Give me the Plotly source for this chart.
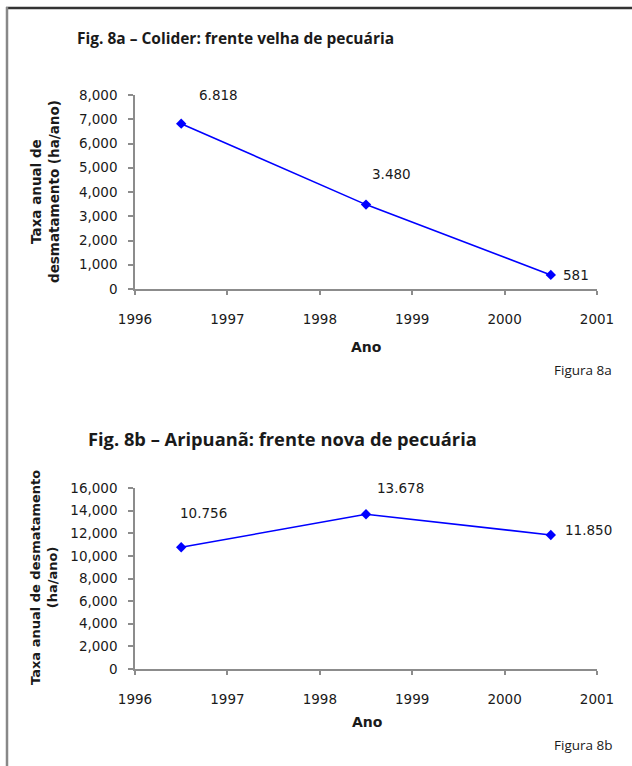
import plotly.graph_objects as go

# ---- data ----
years = [1996.5, 1998.5, 2000.5]
colider = [6818, 3480, 581]
colider_labels = ["6.818", "3.480", "581"]
aripuana = [10756, 13678, 11850]
aripuana_labels = ["10.756", "13.678", "11.850"]

title_a = "Fig. 8a – Colider: frente velha de pecuária"
title_b = "Fig. 8b – Aripuanã: frente nova de pecuária"

W, H = 632, 766
FONT = "DejaVu Sans"
TFONT = "Open Sans"
TXT = "#1a1a1a"
AX = "#8c8c8c"
BLUE = "#0000ff"


def px(x):
    return x / W


def py(y):
    return (H - y) / H


fig = go.Figure()
fig.add_trace(go.Scatter(x=years, y=colider, mode="lines+markers",
                         line=dict(color=BLUE, width=1.6),
                         marker=dict(symbol="diamond", size=8, color=BLUE),
                         xaxis="x", yaxis="y", showlegend=False))
fig.add_trace(go.Scatter(x=years, y=aripuana, mode="lines+markers",
                         line=dict(color=BLUE, width=1.6),
                         marker=dict(symbol="diamond", size=8, color=BLUE),
                         xaxis="x2", yaxis="y2", showlegend=False))

xcommon = dict(range=[1996, 2001], dtick=1, tick0=1996, showline=True, linecolor=AX,
               linewidth=1.5, ticks="outside", ticklen=4, tickcolor=AX, tickwidth=1.5,
               showgrid=False, zeroline=False, tickfont=dict(family=FONT, size=13.5, color=TXT),
               ticklabelstandoff=13, fixedrange=True, automargin=False)
ycommon = dict(showline=True, linecolor=AX, linewidth=1.5, ticks="outside", ticklen=5,
               tickcolor=AX, tickwidth=1.5, showgrid=False, zeroline=False,
               tickformat=",", tickfont=dict(family=FONT, size=13.5, color=TXT),
               ticklabelstandoff=8, fixedrange=True, automargin=False)

fig.update_layout(
    template="none",
    width=W, height=H, margin=dict(l=0, r=0, t=0, b=0, autoexpand=False),
    paper_bgcolor="white", plot_bgcolor="white",
    xaxis=dict(domain=[px(135), px(597)], anchor="y", **xcommon),
    yaxis=dict(domain=[py(289), py(95)], anchor="x", range=[0, 8000], dtick=1000, **ycommon),
    xaxis2=dict(domain=[px(135), px(597)], anchor="y2", **xcommon),
    yaxis2=dict(domain=[py(669), py(488)], anchor="x2", range=[0, 16000], dtick=2000, **ycommon),
)

ann = []


def pann(text, x, y, size, xanchor="center", angle=0, bold=False, font=TFONT):
    if bold:
        text = "<b>" + text + "</b>"
    return dict(text=text, x=px(x), y=py(y), xref="paper", yref="paper",
                xanchor=xanchor, yanchor="middle", showarrow=False, textangle=angle,
                font=dict(family=font, size=size, color=TXT))


# titles
ann.append(pann(title_a, 75, 38, 15.5, xanchor="left", bold=True))
ann.append(pann(title_b, 86, 438, 18.3, xanchor="left", bold=True))
# axis titles
ann.append(pann("Taxa anual de<br>desmatamento (ha/ano)", 45, 192, 13.5, angle=-90,
                bold=True, font=FONT))
ann.append(pann("Taxa anual de desmatamento<br>(ha/ano)", 44, 578, 13, angle=-90,
                bold=True, font=FONT))
ann.append(pann("Ano", 366, 347, 14, bold=True, font=FONT))
ann.append(pann("Ano", 367, 722, 14, bold=True, font=FONT))
ann.append(pann("Figura 8a", 583, 370, 13.5, font=TFONT))
ann.append(pann("Figura 8b", 583, 745, 13.5, font=TFONT))

# data labels
shifts_a = [(37, 29), (25, 31), (25, 0)]
for xv, yv, lab, (dx, dy) in zip(years, colider, colider_labels, shifts_a):
    ann.append(dict(text=lab, x=xv, y=yv, xref="x", yref="y", showarrow=False,
                    xanchor="center", yanchor="middle",
                    xshift=dx, yshift=dy, font=dict(family=FONT, size=13.5, color=TXT)))
shifts_b = [(22, 34), (34, 26), (38, 5)]
for xv, yv, lab, (dx, dy) in zip(years, aripuana, aripuana_labels, shifts_b):
    ann.append(dict(text=lab, x=xv, y=yv, xref="x2", yref="y2", showarrow=False,
                    xanchor="center", yanchor="middle",
                    xshift=dx, yshift=dy, font=dict(family=FONT, size=13.5, color=TXT)))

fig.update_layout(annotations=ann)

# page frame (top and left rules)
fig.update_layout(shapes=[
    dict(type="line", xref="paper", yref="paper", x0=px(6), x1=1, y0=py(8), y1=py(8),
         line=dict(color="#333333", width=2.5)),
    dict(type="line", xref="paper", yref="paper", x0=px(7), x1=px(7), y0=0, y1=py(7),
         line=dict(color="#888888", width=2.5)),
])

fig.write_html("out.html")
